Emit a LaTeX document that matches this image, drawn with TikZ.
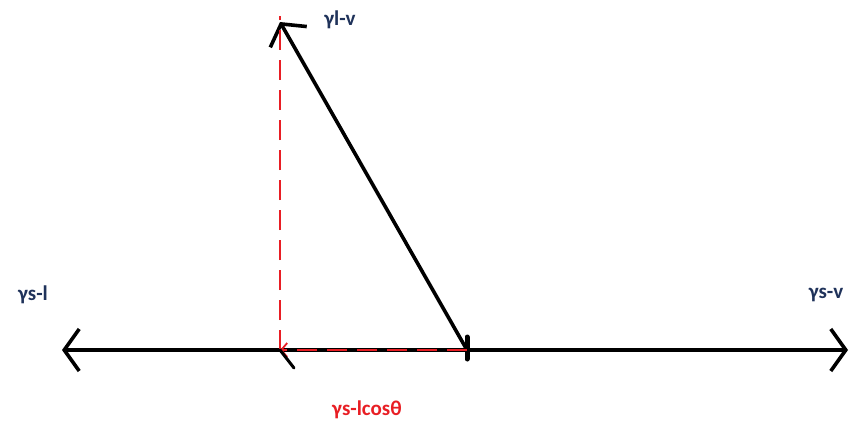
\documentclass[tikz,border=0pt]{standalone}
\usepackage{fontspec}
\setmainfont{Carlito}
\usetikzlibrary{arrows.meta,positioning,calc}
\definecolor{Ink}{RGB}{31,50,90}
\definecolor{Comp}{RGB}{232,30,36}
\tikzset{
  tens/.style={-{Straight Barb[length=15pt,width=42pt]},line width=3.6pt,draw=black},
  ptens/.style={draw=Comp,line width=1.8pt,dash pattern=on 20pt off 10pt},
  glab/.style={font=\fontsize{21}{24}\selectfont\bfseries,text=Ink,inner sep=1pt},
  rlab/.style={glab,text=Comp}
}
\begin{document}
\begin{tikzpicture}[x=1pt,y=-1pt]
\useasboundingbox (0,0) rectangle (852,428);
% points of the drop
\coordinate (cp) at (467,350);
\coordinate (le) at (62,350);
\coordinate (re) at (848,350);
\coordinate (top) at (280,22);
\coordinate (foot) at (280,350);
% surface tensions
\draw[tens] (cp) -- (le);
\draw[tens] (cp) -- (re);
\draw[tens] (cp) -- (top);
\draw[line width=5pt,line cap=round] ([yshift=-9]cp) -- ([yshift=13]cp);
% projection
\draw[ptens] (foot) -- ([yshift=6]top);
\draw[ptens,-{Straight Barb[length=6pt,width=14pt]}] (cp) -- (foot);
\draw[line width=3pt,line cap=round] (foot) -- (294,368);
% labels
\node[glab] (lv) at (340,20) {γl-v};
\node[glab] (sl) at (33,295) {γs-l};
\node[glab] (sv) at (826,295) {γs-v};
\node[rlab] (sc) at (367,410) {γs-lcosθ};
\end{tikzpicture}
\end{document}
